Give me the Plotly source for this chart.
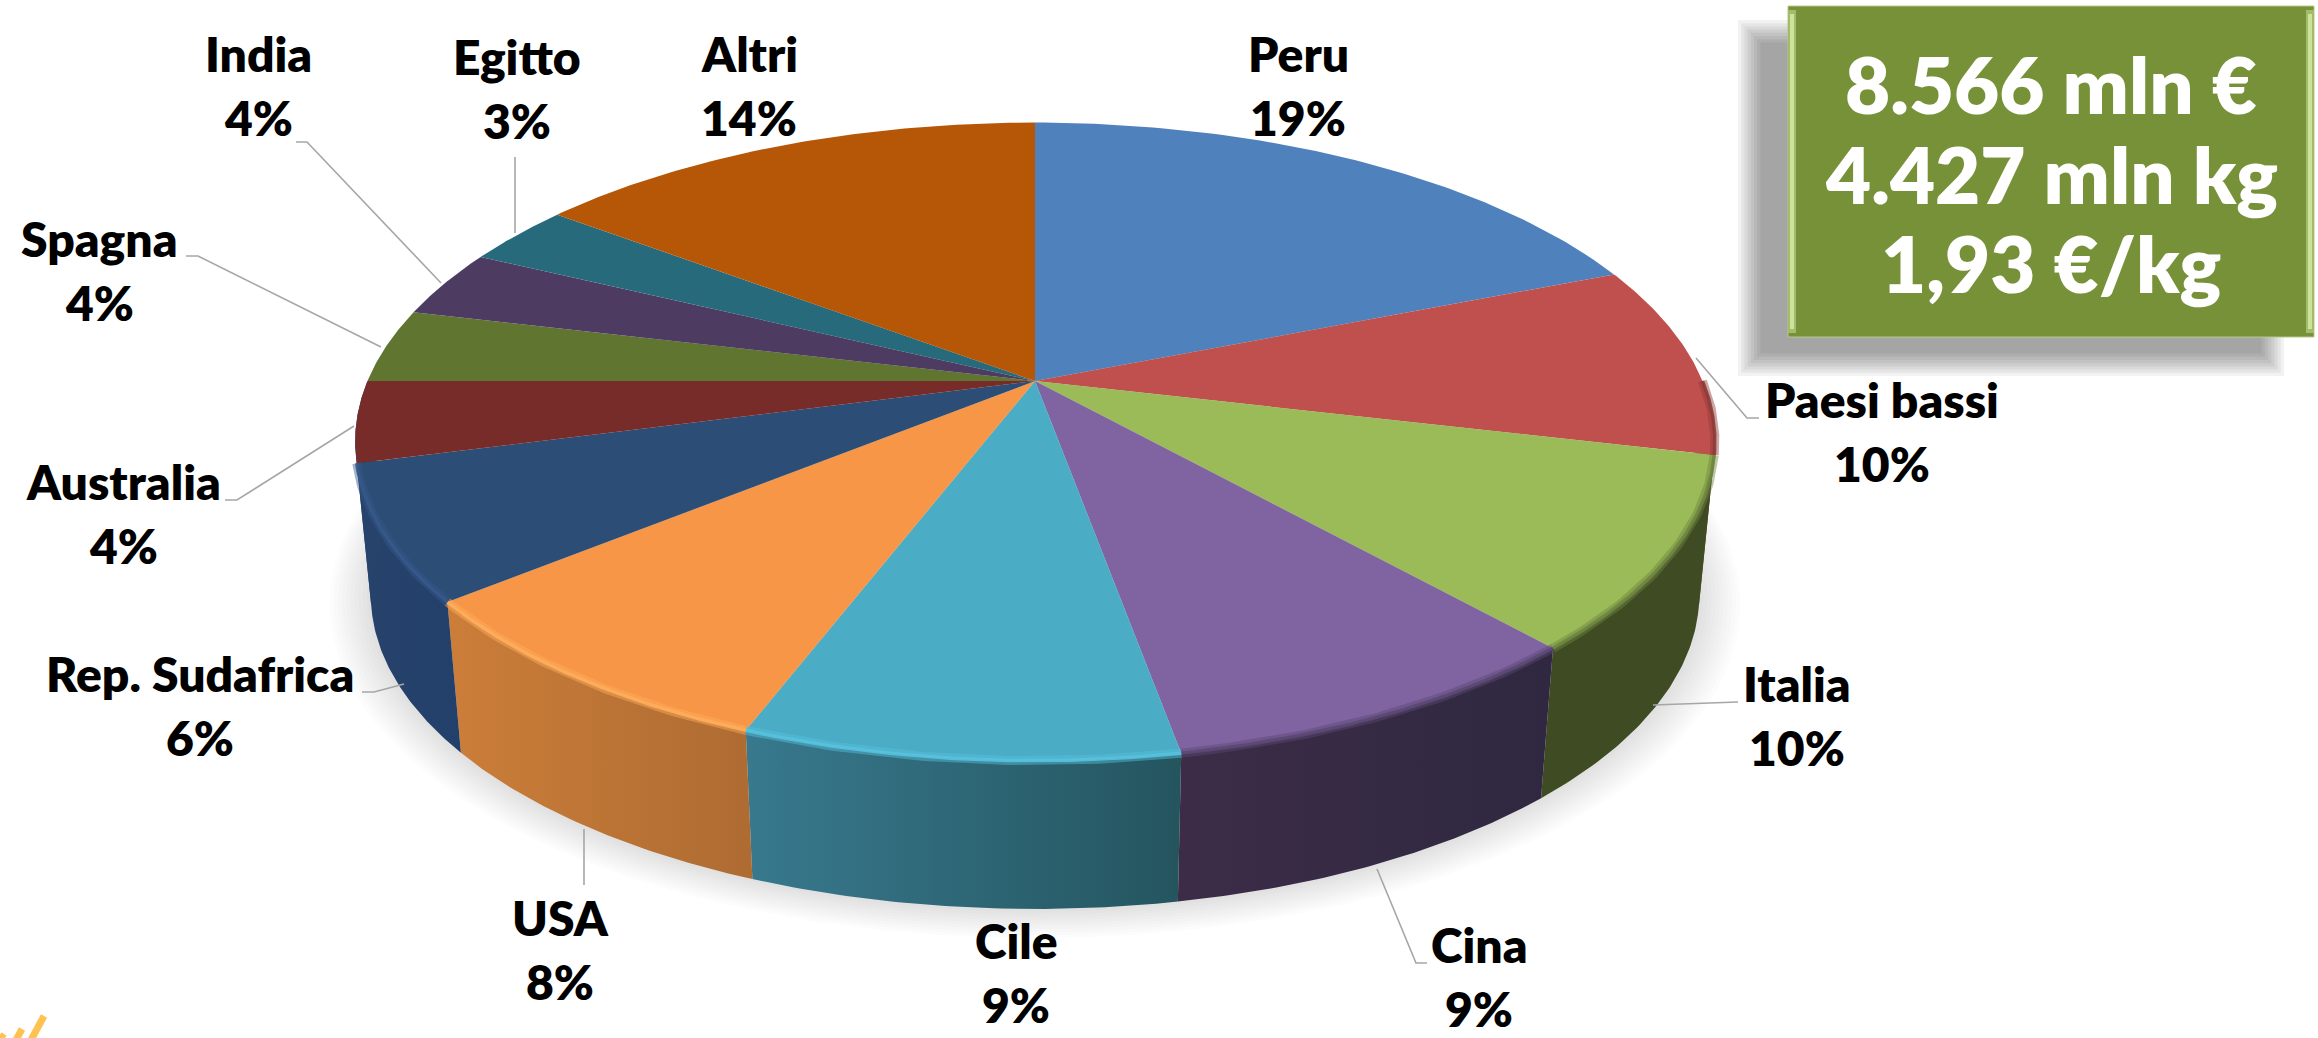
import numpy as np
import plotly.graph_objects as go

# ---- data -------------------------------------------------------------
categories = ["Peru", "Paesi bassi", "Italia", "Cina", "Cile", "USA", "Rep. Sudafrica",
              "Australia", "Spagna", "India", "Egitto", "Altri"]
values = [18.95, 9.75, 9.7, 8.75, 8.65, 8.3, 6.8, 4.1, 3.75, 3.45, 3.1, 14.7]
percent_labels = ["19%", "10%", "10%", "9%", "9%", "8%", "6%", "4%", "4%", "4%", "3%", "14%"]
box_lines = ["8.566 mln €", "4.427 mln kg", "1,93 €/kg"]

# ---- style ------------------------------------------------------------
top_colors = ["#4F81BD", "#C0504D", "#9BBB59", "#8064A2", "#4BACC6", "#F79646", "#2C4D75",
              "#772C2A", "#5F7530", "#4D3B62", "#276A7C", "#B65708"]
wall_left = ["#000000", "#7A2F2D", "#3F4B22", "#3C2C48", "#38798E", "#CC7E39", "#27436C",
             "#27436C", "#000000", "#000000", "#000000", "#000000"]
wall_right = ["#000000", "#7A2F2D", "#3F4B22", "#2F2840", "#24555F", "#AE6B32", "#23406A",
              "#27436C", "#000000", "#000000", "#000000", "#000000"]
rim_colors = [None, "#8E3B39", "#6E8640", "#5C4873", "#58C2DE", "#FFAE5C", "#36598A",
              None, None, None, None, None]

W, H = 2318, 1038
CX, CY = 1035.0, 381.0      # pie apex on the page
A, B, P = 307.5, 667.5, 0.19  # tilt projection
DEPTH, SX, SY = 154.0, 0.977, 0.985
FONT = "Lato"
LABEL_SIZE = 48
HEAVY = 800

# label centre positions (name line) on the page
label_pos = {"Peru": (1298, 53), "Paesi bassi": (1882, 399), "Italia": (1797, 683),
             "Cina": (1479, 944), "Cile": (1016, 940), "USA": (560, 917),
             "Rep. Sudafrica": (200, 673), "Australia": (123, 481), "Spagna": (99, 238),
             "India": (258, 53), "Egitto": (517, 56), "Altri": (749, 53)}
LINE_STEP = 64
leaders = [[(1696, 358), (1747, 418), (1759, 418)],
           [(1653, 705), (1738, 702)],
           [(1377, 869), (1416, 963), (1427, 963)],
           [(584, 829), (584, 885)],
           [(362, 692), (374, 692), (404, 684)],
           [(225, 500), (237, 500), (354, 426)],
           [(186, 256), (198, 256), (381, 347)],
           [(296, 142), (307, 142), (441, 283)],
           [(515, 157), (515, 233)]]


def top_xy(theta):
    w = 1 + P * np.cos(theta)
    return CX + B * np.sin(theta) / w, CY - A * np.cos(theta) / w


def bottom_xy(theta, grow=1.0, shift=0.0):
    x, y = top_xy(theta)
    return CX + (x - CX) * SX * grow, CY + DEPTH + shift + (y - CY) * SY * grow


total = sum(values)
edges = np.cumsum([0] + values) / total * 2 * np.pi
edges[-1] = 2 * np.pi
fig = go.Figure()


def poly(x, y, color, opacity=1.0):
    fig.add_trace(go.Scatter(x=x, y=y, mode="lines", fill="toself", fillcolor=color,
                             line=dict(width=0, color=color), opacity=opacity,
                             hoverinfo="skip", showlegend=False))


# soft shadow under the pie
ring = np.linspace(0, 2 * np.pi, 240)
for k in range(10, 0, -1):
    sx_, sy_ = bottom_xy(ring, grow=1 + k * 0.0062, shift=k * 0.6)
    poly(sx_, sy_, "#000000", 0.0135)

# side walls, front half only
for i, (a0, a1) in enumerate(zip(edges[:-1], edges[1:])):
    lo, hi = max(a0, np.pi / 2), min(a1, 3 * np.pi / 2)
    if hi <= lo:
        continue
    t = np.linspace(lo, hi, 60)
    xt, yt = top_xy(t)
    xb, yb = bottom_xy(t)
    x = np.concatenate([xt, xb[::-1]])
    y = np.concatenate([yt, yb[::-1]])
    # colours run left to right on the page, slices run right to left
    fig.add_trace(go.Scatter(x=x, y=y, mode="lines", fill="toself",
                             line=dict(width=0, color=wall_left[i]),
                             fillgradient=dict(type="horizontal",
                                               colorscale=[[0, wall_left[i]], [1, wall_right[i]]]),
                             hoverinfo="skip", showlegend=False))

# top faces
for i, (a0, a1) in enumerate(zip(edges[:-1], edges[1:])):
    t = np.linspace(a0, a1, 80)
    xt, yt = top_xy(t)
    poly(np.concatenate([[CX], xt, [CX]]), np.concatenate([[CY], yt, [CY]]), top_colors[i])

# bevel along the front rim: a soft wide band and a narrow core
for i, (a0, a1) in enumerate(zip(edges[:-1], edges[1:])):
    lo, hi = max(a0, np.pi / 2), min(a1, 3 * np.pi / 2)
    if hi <= lo or rim_colors[i] is None:
        continue
    t = np.linspace(lo, hi, 60)
    xt, yt = top_xy(t)
    for lw, op in [(9, 0.45), (3.5, 0.9)]:
        fig.add_trace(go.Scatter(x=xt, y=yt, mode="lines", opacity=op,
                                 line=dict(width=lw, color=rim_colors[i]),
                                 hoverinfo="skip", showlegend=False))

# leader lines
for seg in leaders:
    fig.add_trace(go.Scatter(x=[p[0] for p in seg], y=[p[1] for p in seg], mode="lines",
                             line=dict(width=1.6, color="#A6A6A6"),
                             hoverinfo="skip", showlegend=False))

# labels
for name, pct in zip(categories, percent_labels):
    lx, ly = label_pos[name]
    fig.add_annotation(x=lx, y=ly, text=name, showarrow=False, xanchor="center", yanchor="middle",
                       font=dict(family=FONT, size=LABEL_SIZE, color="#000000", weight=HEAVY))
    fig.add_annotation(x=lx, y=ly + LINE_STEP, text=pct, showarrow=False,
                       xanchor="center", yanchor="middle",
                       font=dict(family=FONT, size=LABEL_SIZE, color="#000000", weight=HEAVY))

# value box: blurred shadow, body, bevel
shapes = []
for k in range(8):
    g = 13 - k * 3.2
    shapes.append(dict(type="rect", x0=1751 - g, x1=2271 + g, y0=33 - g, y1=363 + g,
                       fillcolor="#000000", opacity=0.05, line=dict(width=0), layer="above"))
shapes.append(dict(type="rect", x0=1788, x1=2314, y0=6, y1=337, fillcolor="#779139",
                   line=dict(width=1, color="#B7C98A"), layer="above"))
shapes.append(dict(type="rect", x0=1788, x1=1796, y0=10, y1=333, fillcolor="#A3BC6C",
                   line=dict(width=0), layer="above"))
shapes.append(dict(type="rect", x0=2306, x1=2314, y0=10, y1=333, fillcolor="#A3BC6C",
                   line=dict(width=0), layer="above"))
shapes.append(dict(type="rect", x0=1790, x1=1794, y0=14, y1=329, fillcolor="#CFE29C",
                   line=dict(width=0), layer="above"))
shapes.append(dict(type="rect", x0=2308, x1=2312, y0=14, y1=329, fillcolor="#CFE29C",
                   line=dict(width=0), layer="above"))
# corner of a logo cut off by the page edge
shapes.append(dict(type="line", x0=44, y0=1016, x1=31, y1=1040, line=dict(width=7, color="#FDC24F"), layer="above"))
shapes.append(dict(type="line", x0=22, y0=1029, x1=16, y1=1040, line=dict(width=7, color="#FDC24F"), layer="above"))
shapes.append(dict(type="line", x0=4, y0=1034, x1=0, y1=1040, line=dict(width=6, color="#FDC24F"), layer="above"))

for line, ty in zip(box_lines, [84, 174, 263]):
    fig.add_annotation(x=2051, y=ty, text=line, showarrow=False, xanchor="center", yanchor="middle",
                       font=dict(family=FONT, size=78, color="#FFFFFF", weight=HEAVY))

fig.update_layout(width=W, height=H, margin=dict(l=0, r=0, t=0, b=0), paper_bgcolor="#FFFFFF",
                  plot_bgcolor="#FFFFFF", showlegend=False, shapes=shapes,
                  xaxis=dict(range=[0, W], visible=False, fixedrange=True),
                  yaxis=dict(range=[H, 0], visible=False, fixedrange=True))

fig.write_html("out.html", config={"displayModeBar": False},
               post_script="document.body.style.margin='0';document.body.style.overflow='hidden';")
